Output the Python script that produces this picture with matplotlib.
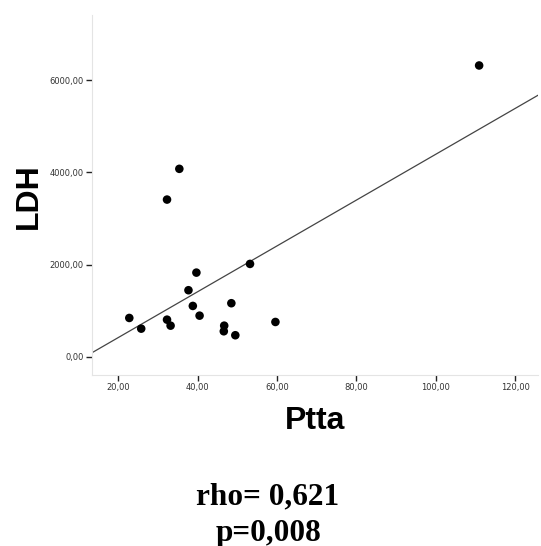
#!/usr/bin/env python3
# -*- coding: utf-8 -*-
"""Scatter of LDH against Ptta with a least-squares fit line."""
import numpy as np
import matplotlib
matplotlib.use("Agg")
import matplotlib.pyplot as plt

ptta = [22.8, 25.8, 32.3, 33.2, 32.3, 35.4, 37.7, 38.8, 39.7, 40.5,
        46.7, 46.6, 49.5, 48.5, 53.2, 59.6, 110.9]
ldh = [840, 608, 803, 673, 3409, 4076, 1442, 1101, 1824, 890,
       673, 551, 465, 1160, 2013, 753, 6319]

x_ticks = [20, 40, 60, 80, 100, 120]
y_ticks = [0, 2000, 4000, 6000]


def comma(v):
    return f"{v:.2f}".replace(".", ",")


W, H = 541, 546
fig = plt.figure(figsize=(W / 100, H / 100), dpi=100)
ax = fig.add_axes([0.170, 0.313, 0.825, 0.660])

x = np.array(ptta, dtype=float)
y = np.array(ldh, dtype=float)
slope, intercept = np.polyfit(x, y, 1)

xlim = (13.4, 125.8)
ax.set_xlim(*xlim)
ax.set_ylim(-400, 7420)
xs = np.array(xlim)
ax.plot(xs, intercept + slope * xs, color="#444444", linewidth=0.9, zorder=2)
ax.scatter(x, y, s=38, color="black", edgecolors="none", zorder=3)

for side in ("top", "right"):
    ax.spines[side].set_visible(False)
for side in ("left", "bottom"):
    ax.spines[side].set_color("#e4e4e4")
    ax.spines[side].set_linewidth(0.8)

ax.set_xticks(x_ticks)
ax.set_xticklabels([comma(v) for v in x_ticks])
ax.set_yticks(y_ticks)
ax.set_yticklabels([comma(v) for v in y_ticks])
ax.tick_params(axis="both", length=4, width=1.0, color="#222222",
               labelsize=6, labelcolor="#333333", pad=2)

ax.set_xlabel("Ptta", fontsize=23, fontweight="bold",
              family="Liberation Sans", labelpad=10)
fig.text(29 / W, 1 - 196 / H, "LDH", rotation=90, ha="center", va="center",
         fontsize=23, fontweight="bold", family="Liberation Sans")

# correlation summary under the chart
stat_font = dict(ha="center", va="baseline", fontsize=22.5,
                 fontweight="bold", family="Liberation Serif")
fig.text(268 / W, 1 - 504 / H, "rho= 0,621", **stat_font)
fig.text(268 / W, 1 - 541 / H, "p=0,008", **stat_font)

fig.savefig("out.png", dpi=100)
